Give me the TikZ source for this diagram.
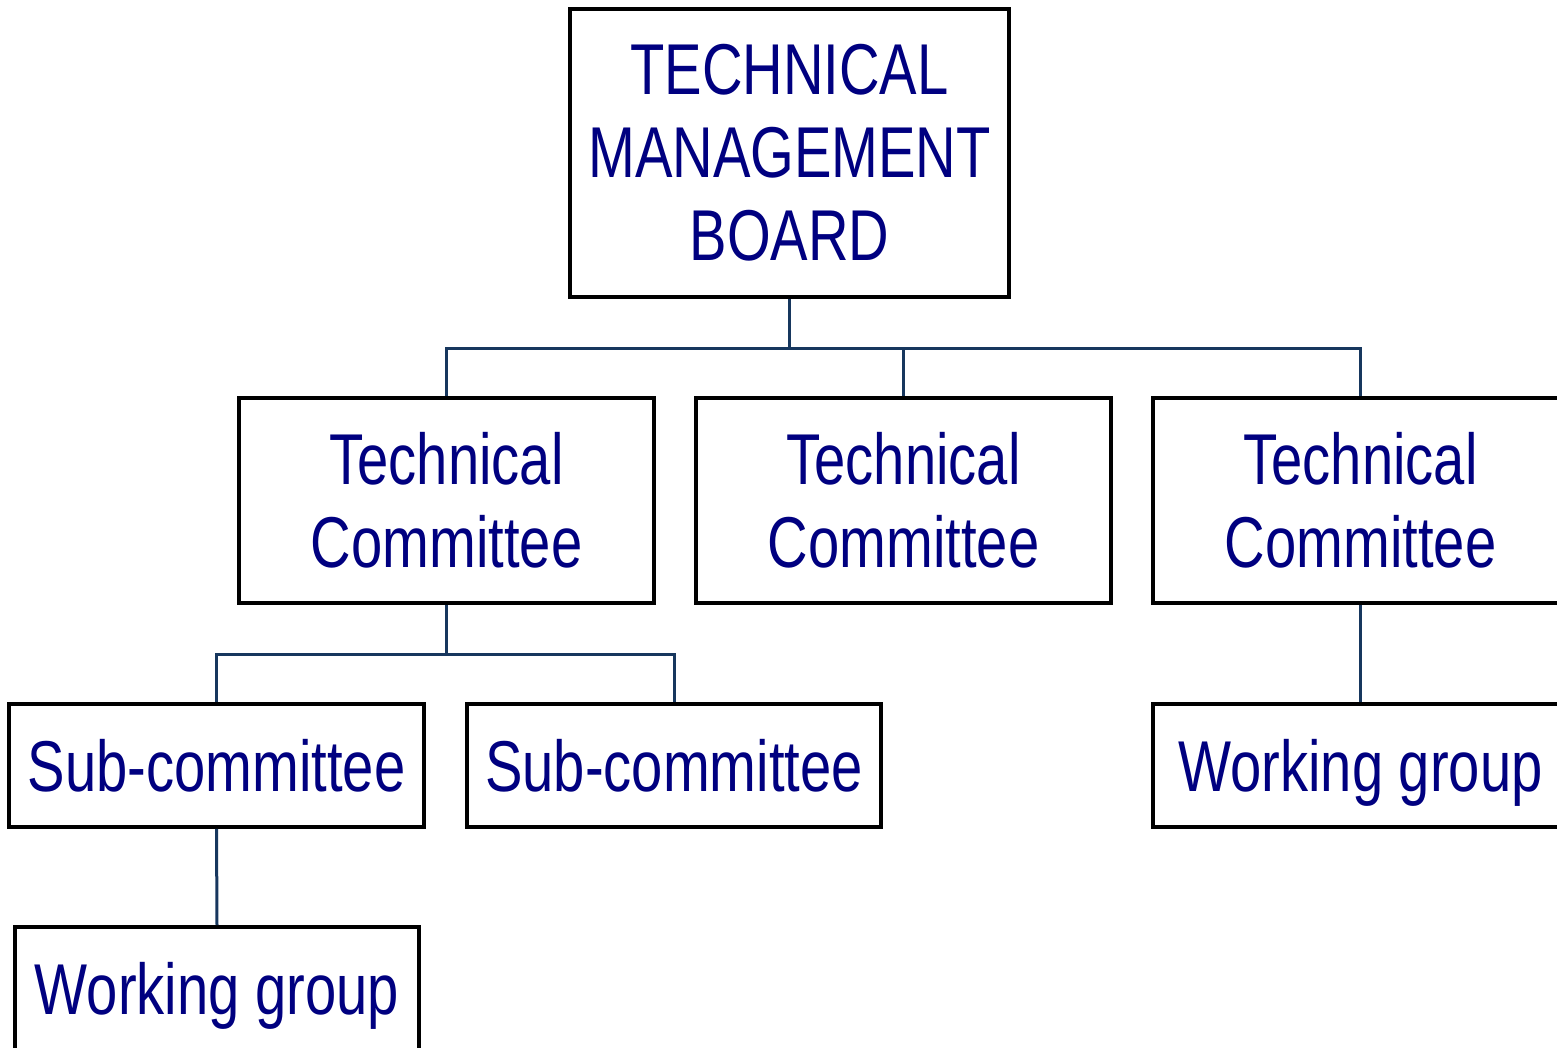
\documentclass[tikz,border=0pt]{standalone}
\usepackage{fontspec}
\setmainfont{Liberation Sans}[FakeStretch=0.78]
\definecolor{txtnavy}{HTML}{000080}
\definecolor{linenavy}{HTML}{17375E}
\begin{document}
\begin{tikzpicture}[x=0.5pt,y=-0.5pt,
  orgbox/.style={draw=black,line width=1.9pt,fill=white,inner sep=0pt,align=center,
    text=txtnavy,font=\fontsize{36}{41.5}\selectfont},
  oneline/.style={text height=26pt,text depth=0pt},
  conn/.style={draw=linenavy,line width=1.5pt}]
\useasboundingbox (0,0) rectangle (1557,1048);
\clip (0,0) rectangle (1557,1048);
\fill[white] (0,0) rectangle (1557,1048);
\coordinate (bus1) at (0,348);
\coordinate (bus2) at (0,654);
\node[orgbox,minimum width=219.5pt,minimum height=144pt] (tmb) at (789.5,153) {TECHNICAL\\MANAGEMENT\\BOARD};
\node[orgbox,minimum width=207.5pt,minimum height=102.5pt] (tc1) at (446.5,500.5) {Technical\\Committee};
\node[orgbox,minimum width=207.5pt,minimum height=102.5pt] (tc2) at (903.5,500.5) {Technical\\Committee};
\node[orgbox,minimum width=207.5pt,minimum height=102.5pt] (tc3) at (1360.5,500.5) {Technical\\Committee};
\node[orgbox,oneline,minimum width=207.5pt,minimum height=61.5pt] (sc1) at (216.5,765.5) {Sub-committee};
\node[orgbox,oneline,minimum width=207pt,minimum height=61.5pt] (sc2) at (674,765.5) {Sub-committee};
\node[orgbox,oneline,minimum width=207.5pt,minimum height=61.5pt] (wg2) at (1360.5,765.5) {Working group};
\node[orgbox,oneline,minimum width=202pt,minimum height=61.5pt] (wg1) at (217,988.5) {Working group};
\draw[conn] (tmb.south) -- (tmb.south |- bus1);
\draw[conn] (tc1.north) -- (tc1.north |- bus1) -| (tc3.north);
\draw[conn] (tc2.north) -- (tc2.north |- bus1);
\draw[conn] (tc1.south) -- (tc1.south |- bus2);
\draw[conn] (sc1.north) -- (sc1.north |- bus2) -| (sc2.north);
\draw[conn] (sc1.south) -- (wg1.north);
\draw[conn] (tc3.south) -- (wg2.north);
\end{tikzpicture}
\end{document}
